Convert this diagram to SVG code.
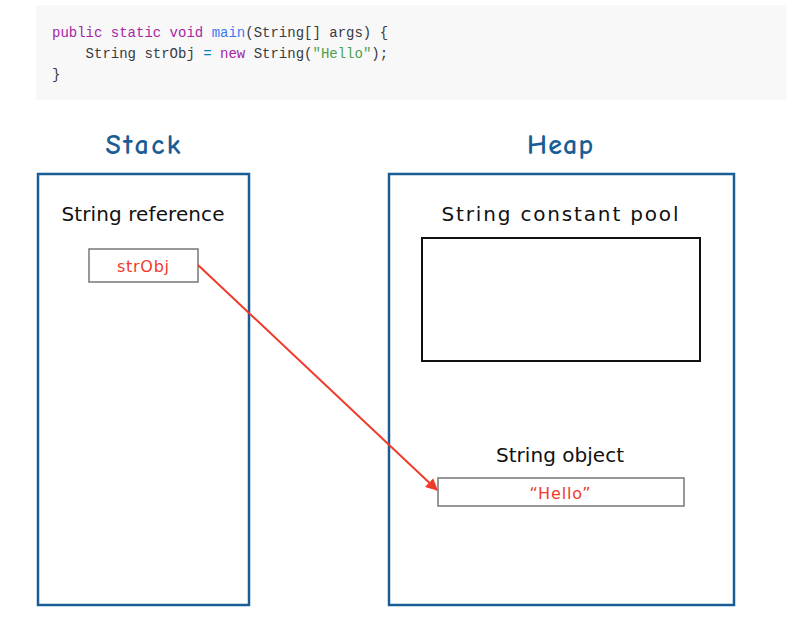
<svg xmlns="http://www.w3.org/2000/svg" width="788" height="629" viewBox="0 0 788 629">
<style>
.code{font-family:"Liberation Mono",monospace;font-size:14px;fill:#383a42}
.kw{fill:#a626a4}.fn{fill:#4078f2}.str{fill:#50a14f}.op{fill:#0184bc}
.title{font-family:"Comic Neue","DejaVu Sans",sans-serif;font-size:28px;font-weight:bold;fill:#1a5d94;text-anchor:middle}
.lbl{font-family:"DejaVu Sans",sans-serif;font-size:20px;fill:#111;text-anchor:middle}
.red{font-family:"DejaVu Sans",sans-serif;font-size:16px;fill:#f03a2a;text-anchor:middle}
.area{fill:none;stroke:#1a5d94;stroke-width:2.5}
.cell{fill:#fff;stroke:#777;stroke-width:1.5}
</style>
<defs>
<marker id="ah" viewBox="0 0 10 10" refX="9" refY="5" markerWidth="6" markerHeight="6" orient="auto" markerUnits="strokeWidth">
<path d="M0,0 L10,5 L0,10 z" fill="#f03a2a"/>
</marker>
</defs>
<rect width="788" height="629" fill="#fff"/>
<g id="code">
<rect x="36" y="5" width="751" height="95" fill="#f8f8f8"/>
<text class="code" x="52" y="37"><tspan class="kw">public static void</tspan> <tspan class="fn">main</tspan>(String[] args) {</text>
<text class="code" x="52" y="58" xml:space="preserve">    String strObj <tspan class="op">=</tspan> <tspan class="kw">new</tspan> String(<tspan class="str">"Hello"</tspan>);</text>
<text class="code" x="52" y="79">}</text>
</g>
<g id="stack">
<text class="title" x="143" y="154" textLength="75" lengthAdjust="spacing">Stack</text>
<rect class="area" x="38" y="174" width="211" height="431"/>
<text class="lbl" x="143" y="221" textLength="163" lengthAdjust="spacing">String reference</text>
</g>
<g id="strObj">
<rect class="cell" x="89" y="249" width="109" height="33"/>
<text class="red" x="143" y="272" textLength="52" lengthAdjust="spacing">strObj</text>
</g>
<g id="heap">
<text class="title" x="560" y="154" textLength="66" lengthAdjust="spacing">Heap</text>
<rect class="area" x="389" y="174" width="345" height="431"/>
<text class="lbl" x="560" y="221" textLength="237" lengthAdjust="spacing">String constant pool</text>
<rect x="422" y="238" width="278" height="123" fill="none" stroke="#111" stroke-width="2"/>
<text class="lbl" x="560" y="462" textLength="128" lengthAdjust="spacing">String object</text>
</g>
<g id="hello">
<rect class="cell" x="438" y="478" width="246" height="28"/>
<text class="red" x="560" y="499" textLength="61" lengthAdjust="spacing">“Hello”</text>
</g>
<g id="connectors">
<line x1="198" y1="265" x2="437" y2="490" stroke="#f03a2a" stroke-width="2" marker-end="url(#ah)"/>
</g>
</svg>
